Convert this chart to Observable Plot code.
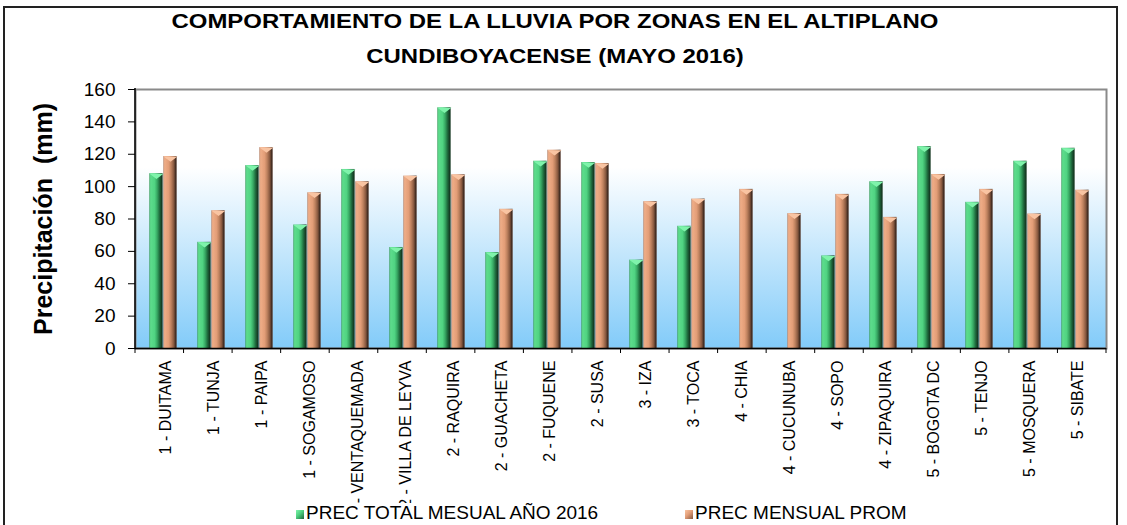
<!DOCTYPE html>
<html>
<head>
<meta charset="utf-8">
<script src="https://cdn.jsdelivr.net/npm/d3@7"></script>
<script src="https://cdn.jsdelivr.net/npm/@observablehq/plot@0.6"></script>
<style>
  body { margin: 0; background: #fff; font-family: "Liberation Sans", Arial, sans-serif; }
  #wrap { position: relative; width: 1127px; height: 525px; overflow: hidden; background: #fff; }
  #border { position: absolute; left: 3px; top: 6px; width: 1115px; height: 560px; border: 2px solid #222; box-sizing: border-box; }
  #title { position: absolute; left: 0; top: 3px; width: 1110px; text-align: center; font-weight: bold; font-size: 21px; line-height: 35px; color: #000; transform: scaleX(1.14); transform-origin: 555px 0; }
  #chart { position: absolute; left: 0; top: 0; }
  #legend { position: absolute; left: 284px; top: 503px; width: 660px; height: 22px; background: #fff; font-size: 19px; line-height: 18px; color: #000; }
  .item { position: absolute; top: 1px; white-space: nowrap; }
  .sw { display: inline-block; width: 8px; height: 9px; margin-right: 2px; vertical-align: 0px; }
</style>
</head>
<body>
<div id="wrap">
  <div id="border"></div>
  <div id="chart"></div>
  <div id="title"></div>
  <div id="legend"></div>
</div>
<script>
const titleLines = ["COMPORTAMIENTO DE LA LLUVIA POR ZONAS EN EL ALTIPLANO", "CUNDIBOYACENSE (MAYO 2016)"];
const yLabel = "Precipitación  (mm)";
const categories = [
  "1 - DUITAMA", "1 - TUNJA", "1 - PAIPA", "1 - SOGAMOSO", "2 - VENTAQUEMADA",
  "2 - VILLA DE LEYVA", "2 - RAQUIRA", "2 - GUACHETA", "2 - FUQUENE", "2 - SUSA",
  "3 - IZA", "3 - TOCA", "4 - CHIA", "4 - CUCUNUBA", "4 - SOPO",
  "4 - ZIPAQUIRA", "5 - BOGOTA DC", "5 - TENJO", "5 - MOSQUERA", "5 - SIBATE"
];
const total2016 = [108, 65.6, 113, 76.3, 110.6, 62.4, 148.7, 59.3, 115.7, 114.9, 54.6, 75.5, null, null, 57.2, 103, 124.7, 90.3, 115.7, 123.7];
const promedio = [118.6, 85.1, 124.1, 96.2, 103, 106.5, 107.3, 86, 122.5, 114.3, 90.7, 92.3, 98.3, 83.3, 95.2, 81, 107.5, 98.3, 83.1, 97.8];
const seriesNames = ["PREC TOTAL MESUAL AÑO 2016", "PREC MENSUAL PROM"];
const yTicks = [0, 20, 40, 60, 80, 100, 120, 140, 160];

const rows = categories.map((c, i) => ({cat: c, total: total2016[i], prom: promedio[i]}));
const rowsTotal = rows.filter(d => d.total != null);

// flat down-pointing bevel triangle for bar tops
const bevel = {
  draw(context, size) {
    const r = Math.sqrt(size / Math.PI);
    context.moveTo(-r, 0);
    context.lineTo(r, 0);
    context.lineTo(0, r * 0.75);
    context.closePath();
  }
};

const inset = 17.3;
const plot = Plot.plot({
  width: 1127,
  height: 525,
  marginLeft: 135,
  marginRight: 21,
  marginTop: 89,
  marginBottom: 177,
  style: {fontFamily: "Liberation Sans, Arial, sans-serif", background: "transparent", color: "#000"},
  x: {domain: categories, padding: 0, label: null},
  y: {domain: [0, 160], label: null},
  marks: [
    Plot.frame({fill: "url(#bgGrad)", stroke: "#8a8a8a", strokeWidth: 2}),
    Plot.barY(rowsTotal, {x: "cat", y: "total", fill: "url(#gGreen)", insetLeft: inset, insetRight: inset, dx: -9}),
    Plot.barY(rows, {x: "cat", y: "prom", fill: "url(#gOrange)", insetLeft: inset, insetRight: inset, dx: 5}),
    Plot.dot(rowsTotal, {x: "cat", y: "total", symbol: bevel, r: 7, fill: "#7ff3ab", dx: -9}),
    Plot.dot(rows, {x: "cat", y: "prom", symbol: bevel, r: 7, fill: "#f9c4a2", dx: 5}),
    Plot.ruleY([0], {stroke: "#000", strokeWidth: 1.5}),
    Plot.axisY({ticks: yTicks, tickSize: 7, tickPadding: 13, fontSize: 19, label: null}),
    Plot.axisX({tickSize: 0, tickRotate: -90, tickPadding: 12, fontSize: 16, label: null}),
    Plot.text([yLabel], {frameAnchor: "left", rotate: -90, dx: -92, textAnchor: "middle", fontSize: 25, fontWeight: "bold"})
  ]
});

const svg = d3.select(plot);
const defs = svg.insert("defs", ":first-child");
const bg = defs.append("linearGradient").attr("id", "bgGrad").attr("x1", 0).attr("y1", 0).attr("x2", 0).attr("y2", 1);
[[0, "#ffffff"], [0.3, "#ffffff"], [1, "#82cbf9"]].forEach(([o, c]) => bg.append("stop").attr("offset", o).attr("stop-color", c));
function barGrad(id, stops) {
  const g = defs.append("linearGradient").attr("id", id).attr("x1", 0).attr("y1", 0).attr("x2", 1).attr("y2", 0);
  stops.forEach(([o, c]) => g.append("stop").attr("offset", o).attr("stop-color", c));
}
barGrad("gGreen", [[0, "#3a9a5c"], [0.1, "#5ddc8c"], [0.4, "#50d382"], [0.58, "#38a964"], [0.78, "#1d653a"], [0.93, "#143822"], [1, "#2d4c38"]]);
barGrad("gOrange", [[0, "#b3826a"], [0.1, "#efad87"], [0.4, "#e29d77"], [0.58, "#bf825f"], [0.78, "#87583f"], [0.93, "#3d291f"], [1, "#5a4035"]]);

// axis lines and category boundary ticks, from the plot's own scales
const xs = plot.scale("x"), ys = plot.scale("y");
const [x0, x1] = xs.range;
const [yb, yt] = ys.range;
const step = (x1 - x0) / categories.length;
const g = svg.append("g").attr("stroke", "#000");
g.append("line").attr("x1", x0).attr("x2", x0).attr("y1", yt - 1).attr("y2", yb).attr("stroke-width", 1.5);
d3.range(categories.length + 1).forEach(i => {
  const x = x0 + i * step;
  g.append("line").attr("x1", x).attr("x2", x).attr("y1", yb).attr("y2", yb + 5).attr("stroke-width", 1);
});

document.getElementById("chart").appendChild(plot);
document.getElementById("title").innerHTML = titleLines.join("<br>");

const legend = document.getElementById("legend");
const swatches = ["linear-gradient(135deg,#7ff3ab 0%,#4dcf7e 45%,#1d653a 100%)", "linear-gradient(135deg,#f9c4a2 0%,#e29d77 45%,#87583f 100%)"];
const lefts = [12, 401];
seriesNames.forEach((name, i) => {
  const it = document.createElement("div");
  it.className = "item";
  it.style.left = lefts[i] + "px";
  it.innerHTML = `<span class="sw" style="background:${swatches[i]}"></span>${name}`;
  legend.appendChild(it);
});
</script>
</body>
</html>
